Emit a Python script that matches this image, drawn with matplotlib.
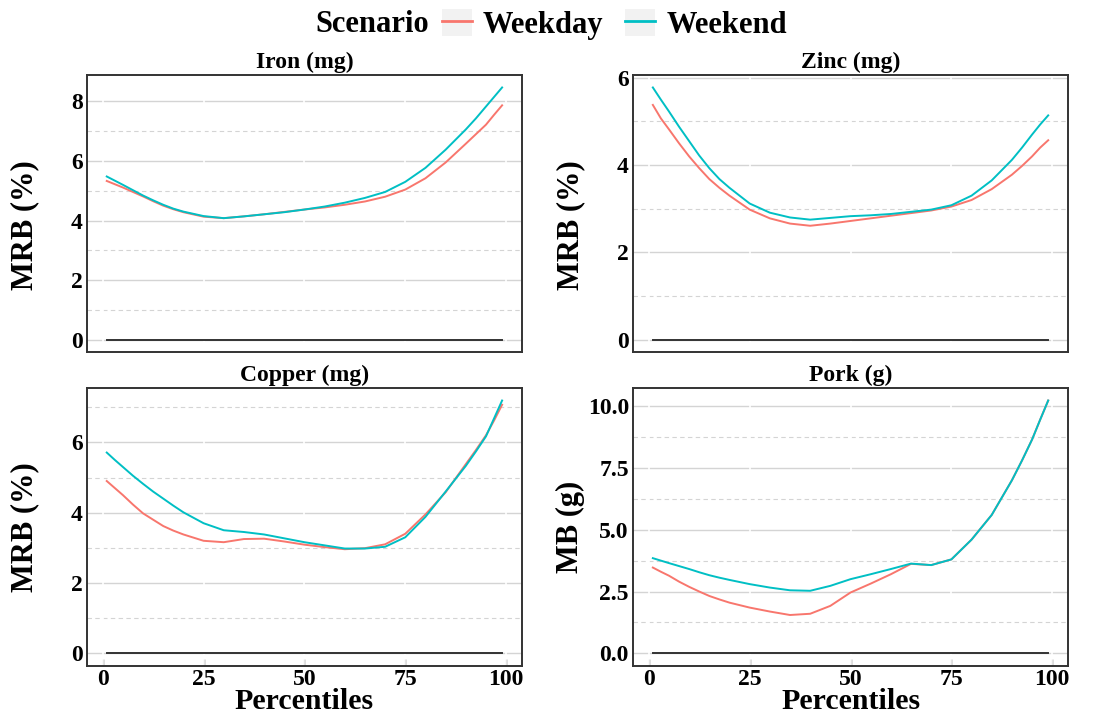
import matplotlib
matplotlib.use("Agg")
import matplotlib.pyplot as plt
from matplotlib.lines import Line2D
from matplotlib.patches import Patch
from matplotlib.legend_handler import HandlerTuple
from matplotlib.ticker import MultipleLocator, FormatStrFormatter

plt.rcParams['font.family'] = ['Liberation Serif', 'DejaVu Serif']
plt.rcParams['font.weight'] = 'bold'

# percentiles on the x axis
pct = [1, 3, 5, 7.5, 10, 12.5, 15, 17.5, 20, 25, 30, 35, 40, 45, 50, 55, 60, 65, 70, 75,
       80, 85, 90, 92.5, 95, 97, 99]

iron_weekday = [5.33, 5.22, 5.11, 4.96, 4.81, 4.65, 4.50, 4.38, 4.28, 4.13, 4.08, 4.14, 4.21, 4.29,
                4.37, 4.44, 4.53, 4.64, 4.80, 5.04, 5.42, 5.95, 6.58, 6.90, 7.22, 7.55, 7.87]
iron_weekend = [5.48, 5.34, 5.20, 5.02, 4.84, 4.68, 4.53, 4.40, 4.30, 4.15, 4.08, 4.14, 4.21, 4.28,
                4.37, 4.47, 4.60, 4.76, 4.96, 5.30, 5.77, 6.38, 7.06, 7.43, 7.83, 8.15, 8.47]

zinc_weekday = [5.38, 5.07, 4.82, 4.50, 4.20, 3.93, 3.68, 3.48, 3.30, 2.98, 2.78, 2.66, 2.61, 2.66,
                2.72, 2.78, 2.84, 2.90, 2.96, 3.05, 3.20, 3.45, 3.78, 3.98, 4.20, 4.40, 4.57]
zinc_weekend = [5.78, 5.50, 5.23, 4.88, 4.55, 4.22, 3.93, 3.68, 3.48, 3.12, 2.91, 2.80, 2.75, 2.79,
                2.83, 2.85, 2.88, 2.93, 2.98, 3.08, 3.30, 3.65, 4.12, 4.40, 4.70, 4.93, 5.14]

copper_weekday = [4.90, 4.70, 4.50, 4.23, 3.98, 3.80, 3.62, 3.49, 3.38, 3.20, 3.16, 3.25, 3.26, 3.18,
                  3.09, 3.02, 2.96, 2.99, 3.10, 3.40, 3.95, 4.58, 5.38, 5.78, 6.20, 6.62, 7.07]
copper_weekend = [5.71, 5.50, 5.30, 5.05, 4.82, 4.60, 4.40, 4.20, 4.01, 3.70, 3.50, 3.45, 3.38, 3.27,
                  3.16, 3.07, 2.98, 2.98, 3.03, 3.30, 3.88, 4.60, 5.33, 5.74, 6.17, 6.68, 7.19]

pork_weekday = [3.47, 3.30, 3.14, 2.90, 2.69, 2.50, 2.32, 2.18, 2.05, 1.85, 1.69, 1.55, 1.60, 1.92,
                2.46, 2.82, 3.20, 3.62, 3.57, 3.80, 4.60, 5.60, 7.00, 7.80, 8.65, 9.45, 10.23]
pork_weekend = [3.85, 3.75, 3.65, 3.53, 3.41, 3.28, 3.16, 3.06, 2.97, 2.80, 2.66, 2.55, 2.53, 2.73,
                3.00, 3.20, 3.41, 3.63, 3.57, 3.80, 4.60, 5.60, 7.00, 7.80, 8.65, 9.45, 10.23]

titles = ['Iron (mg)', 'Zinc (mg)', 'Copper (mg)', 'Pork (g)']
ylabels = ['MRB (%)', 'MRB (%)', 'MRB (%)', 'MB (g)']
weekday = [iron_weekday, zinc_weekday, copper_weekday, pork_weekday]
weekend = [iron_weekend, zinc_weekend, copper_weekend, pork_weekend]
major_step = [2, 2, 2, 2.5]

c_weekday = '#F8766D'
c_weekend = '#00BFC4'

fig = plt.figure(figsize=(11.01, 7.13), dpi=100)
boxes = [[0.079, 0.506, 0.395, 0.389], [0.575, 0.506, 0.395, 0.389],
         [0.079, 0.066, 0.395, 0.390], [0.575, 0.066, 0.395, 0.390]]

for i in range(4):
    ax = fig.add_axes(boxes[i])
    ax.plot(pct, [0] * len(pct), color='#333333', lw=1.4, zorder=2)
    ax.plot(pct, weekday[i], color=c_weekday, lw=1.4, zorder=3)
    ax.plot(pct, weekend[i], color=c_weekend, lw=1.4, zorder=4)

    ax.set_xlim(-3.9, 103.9)
    ax.yaxis.set_major_locator(MultipleLocator(major_step[i]))
    ax.yaxis.set_minor_locator(MultipleLocator(major_step[i] / 2))
    ax.xaxis.set_major_locator(MultipleLocator(25))
    if i == 3:
        ax.yaxis.set_major_formatter(FormatStrFormatter('%.1f'))

    ax.set_axisbelow(True)
    ax.grid(axis='y', which='major', color='#D4D4D4', lw=1.0)
    ax.grid(axis='y', which='minor', color='#D4D4D4', lw=0.8, ls=(0, (4, 3)))
    for xv in [0, 25, 50, 75, 100]:
        ax.axvline(xv, color='white', lw=1.2, zorder=0.8)

    for s in ax.spines.values():
        s.set_color('#333333')
        s.set_linewidth(1.4)

    ax.tick_params(axis='y', which='both', length=0, pad=3)
    ax.tick_params(axis='both', which='major', labelsize=17)
    ax.tick_params(axis='x', which='major', direction='in', length=5, color='#555555',
                   width=1, pad=2)
    ax.set_title(titles[i], fontsize=17, fontweight='bold', pad=5)
    ax.set_ylabel(ylabels[i], fontsize=22, fontweight='bold')

    if i < 2:
        ax.yaxis.set_label_coords(-0.11, 0.46)
        ax.tick_params(axis='x', which='both', bottom=False, labelbottom=False)
    else:
        ax.yaxis.set_label_coords(-0.11, 0.5)
        ax.set_xlabel('Percentiles', fontsize=21.5, fontweight='bold')
        ax.xaxis.set_label_coords(0.5, -0.078)

# legend on top, ggplot style
fig.text(0.338, 0.966, 'Scenario', fontsize=22, fontweight='bold', ha='center', va='center')
key_bg = Patch(facecolor='#F2F2F2', edgecolor='none')
h1 = (key_bg, Line2D([], [], color=c_weekday, lw=2))
h2 = (key_bg, Line2D([], [], color=c_weekend, lw=2))
fig.legend([h1, h2], ['Weekday', 'Weekend'], handler_map={tuple: HandlerTuple(ndivide=1)},
           loc='center', bbox_to_anchor=(0.558, 0.966), ncol=2, frameon=False,
           prop={'size': 22, 'weight': 'bold'}, handlelength=0.98, handleheight=1.0,
           handletextpad=0.36, columnspacing=0.72, borderaxespad=0, borderpad=0)

fig.savefig('out.png', dpi=100)
